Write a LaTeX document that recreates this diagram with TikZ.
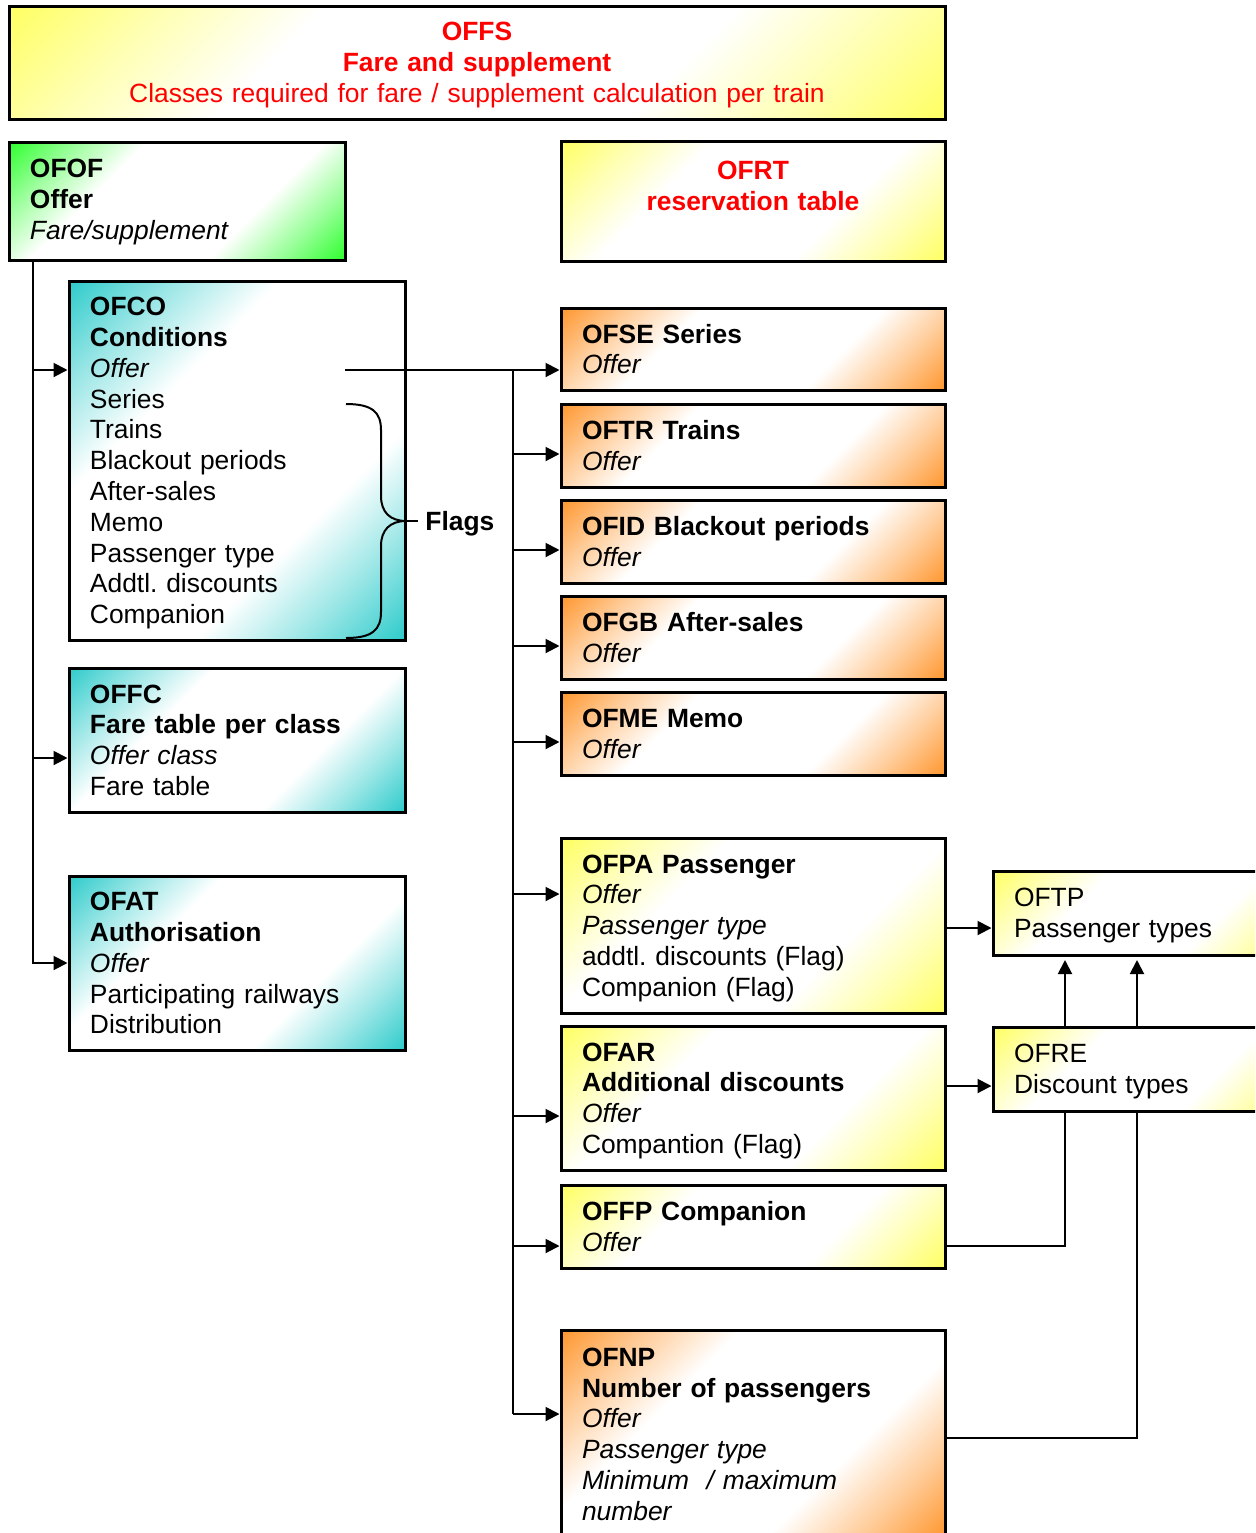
\documentclass[tikz,border=0pt]{standalone}
\usepackage{fontspec}
\setmainfont{Liberation Sans}
\usetikzlibrary{arrows.meta,calc}
\frenchspacing
\definecolor{cY}{RGB}{255,255,102}
\definecolor{cG}{RGB}{51,255,51}
\definecolor{cT}{RGB}{51,204,204}
\definecolor{cO}{RGB}{255,153,51}
\definecolor{cR}{RGB}{255,0,0}
\pgfdeclarehorizontalshading{shY}{100bp}{color(0bp)=(cY); color(15bp)=(cY); color(25bp)=(cY!50!white); color(36bp)=(white); color(64bp)=(white); color(75bp)=(cY!50!white); color(85bp)=(cY); color(100bp)=(cY)}
\pgfdeclarehorizontalshading{shG}{100bp}{color(0bp)=(cG); color(15bp)=(cG); color(25bp)=(cG!50!white); color(36bp)=(white); color(64bp)=(white); color(75bp)=(cG!50!white); color(85bp)=(cG); color(100bp)=(cG)}
\pgfdeclarehorizontalshading{shT}{100bp}{color(0bp)=(cT); color(15bp)=(cT); color(25bp)=(cT!50!white); color(36bp)=(white); color(64bp)=(white); color(75bp)=(cT!50!white); color(85bp)=(cT); color(100bp)=(cT)}
\pgfdeclarehorizontalshading{shO}{100bp}{color(0bp)=(cO); color(15bp)=(cO); color(25bp)=(cO!50!white); color(36bp)=(white); color(64bp)=(white); color(75bp)=(cO!50!white); color(85bp)=(cO); color(100bp)=(cO)}
\pgfdeclarelayer{bg}
\pgfsetlayers{bg,main}
\begin{document}
\begin{tikzpicture}[x=0.5pt,y=-0.5pt,
  box/.style={draw, line width=1.5pt, shade, shading angle=-45, inner xsep=10.5pt, inner ysep=1pt,
    align=left, font=\fontsize{13.2pt}{15.4pt}\selectfont},
  yb/.style={box, shading=shY},
  gb/.style={box, shading=shG},
  tb/.style={box, shading=shT},
  ob/.style={box, shading=shO},
  narrow/.style={minimum width=168pt, text width=147pt},
  wide/.style={minimum width=192pt, text width=171pt},
  ln/.style={line width=1pt},
  arr/.style={line width=1pt, -{Triangle[length=7pt,width=7pt]}},
  lbl/.style={font=\fontsize{13.2pt}{15.4pt}\selectfont\bfseries}]
\useasboundingbox (0,0) rectangle (1255,1533);
\clip (0,0) rectangle (1255,1533);

% boxes
\node[yb, align=center, minimum width=468pt, text width=447pt, minimum height=56.5pt, text=cR, text depth=30.8pt] (OFFS) at (477,62.5)
  {\textbf{OFFS}\\\textbf{Fare and supplement}\\Classes required for fare / supplement calculation per train};
\node[gb, narrow, minimum height=59pt, text depth=32.8pt] (OFOF) at (177,201) {\textbf{OFOF}\\\textbf{Offer}\\\textit{Fare/supplement}};
\node[yb, wide, align=center, minimum height=60pt, text=cR, text depth=30.8pt] (OFRT) at (753,201) {\textbf{OFRT}\\\textbf{reservation table}\\\mbox{}};
\node[tb, narrow, minimum height=179.5pt, text depth=154pt] (OFCO) at (237,460.5)
  {\textbf{OFCO}\\\textbf{Conditions}\\\textit{Offer}\\Series\\Trains\\Blackout periods\\After-sales\\Memo\\Passenger type\\Addtl. discounts\\Companion};
\node[tb, narrow, minimum height=72pt, text depth=46.2pt] (OFFC) at (237,740) {\textbf{OFFC}\\\textbf{Fare table per class}\\\textit{Offer class}\\Fare table};
\node[tb, narrow, minimum height=87pt, text depth=61.6pt] (OFAT) at (237,963) {\textbf{OFAT}\\\textbf{Authorisation}\\\textit{Offer}\\Participating railways\\Distribution};
\node[ob, wide, minimum height=41pt, text depth=15.4pt] (OFSE) at (753,349) {\textbf{OFSE Series}\\\textit{Offer}};
\node[ob, wide, minimum height=41.5pt, text depth=15.4pt] (OFTR) at (753,445.5) {\textbf{OFTR Trains}\\\textit{Offer}};
\node[ob, wide, minimum height=41.5pt, text depth=15.4pt] (OFID) at (753,541.5) {\textbf{OFID Blackout periods}\\\textit{Offer}};
\node[ob, wide, minimum height=41.5pt, text depth=15.4pt] (OFGB) at (753,637.5) {\textbf{OFGB After-sales}\\\textit{Offer}};
\node[ob, wide, minimum height=41.5pt, text depth=15.4pt] (OFME) at (753,733.5) {\textbf{OFME Memo}\\\textit{Offer}};
\node[yb, wide, minimum height=87.5pt, text depth=61.6pt] (OFPA) at (753,925.5)
  {\textbf{OFPA Passenger}\\\textit{Offer}\\\textit{Passenger type}\\addtl. discounts (Flag)\\Companion (Flag)};
\node[yb, wide, minimum height=72pt, text depth=46.2pt] (OFAR) at (753,1098) {\textbf{OFAR}\\\textbf{Additional discounts}\\\textit{Offer}\\Compantion (Flag)};
\node[yb, wide, minimum height=41.5pt, text depth=15.4pt] (OFFP) at (753,1226.5) {\textbf{OFFP Companion}\\\textit{Offer}};
\node[ob, wide, minimum height=104pt, text depth=77pt] (OFNP) at (753,1434)
  {\textbf{OFNP}\\\textbf{Number of passengers}\\\textit{Offer}\\\textit{Passenger type}\\\textit{Minimum\ \ / maximum}\\\textit{number}};
\node[yb, minimum width=153.5pt, text width=132.5pt, minimum height=42pt, text depth=15.4pt] (OFTP) at (1146.5,913) {OFTP\\Passenger types};
\node[yb, minimum width=153.5pt, text width=132.5pt, minimum height=42pt, text depth=15.4pt] (OFRE) at (1146.5,1069) {OFRE\\Discount types};

% connectors passing behind OFRE
\begin{pgfonlayer}{bg}
\draw[arr, shorten >=1.75pt] ([yshift=-9.75pt]OFFP.east) -| ([xshift=-40.75pt]OFTP.south);
\draw[arr, shorten >=1.75pt] ([yshift=-2pt]OFNP.east) -| ([xshift=-4.75pt]OFTP.south);
\end{pgfonlayer}

% left trunk
\coordinate (lt) at ([xshift=12.5pt]OFOF.south west);
\coordinate (aCO) at ([yshift=45.25pt]OFCO.west);
\coordinate (aFC) at ([yshift=-9pt]OFFC.west);
\draw[arr] (lt) |- (OFAT.west);
\draw[arr] (lt |- aCO) -- (aCO);
\draw[arr] (lt |- aFC) -- (aFC);

% right trunk
\coordinate (aSE) at ([yshift=-10.5pt]OFSE.west);
\coordinate (aTR) at ([yshift=-4.25pt]OFTR.west);
\coordinate (aID) at ([yshift=-4.25pt]OFID.west);
\coordinate (aGB) at ([yshift=-4.25pt]OFGB.west);
\coordinate (aME) at ([yshift=-4.25pt]OFME.west);
\coordinate (aPA) at ([yshift=15.75pt]OFPA.west);
\coordinate (aAR) at ([yshift=-9pt]OFAR.west);
\coordinate (aFP) at ([yshift=-9.75pt]OFFP.west);
\coordinate (aNP) at ([yshift=10pt]OFNP.west);
\coordinate (co) at (345,370);
\coordinate (rt) at (513,370);
\draw[arr] (co) -- (aSE);
\draw[ln] (rt) -- (rt |- aNP);
\foreach \t in {aTR,aID,aGB,aME,aPA,aAR,aFP,aNP}
  \draw[arr] (rt |- \t) -- (\t);

% right side
\coordinate (aTP) at ([yshift=-7.5pt]OFTP.west);
\coordinate (aRE) at ([yshift=-8.5pt]OFRE.west);
\draw[arr] (aTP -| OFPA.east) -- (aTP);
\draw[arr] (aRE -| OFAR.east) -- (aRE);

% brace and Flags
\node[lbl, anchor=west, inner sep=3.5pt, text depth=0pt] (flags) at (418,521) {Flags};
\coordinate (btip) at (406,521);
\draw[ln] (346,404) .. controls (372,404) and (381,412) .. (381,430) -- (381,496)
  .. controls (381,512) and (390,521) .. (btip)
  .. controls (390,521) and (381,530) .. (381,546) -- (381,612)
  .. controls (381,630) and (372,638) .. (346,638);
\draw[ln] (btip) -- (flags.west);
\end{tikzpicture}
\end{document}
